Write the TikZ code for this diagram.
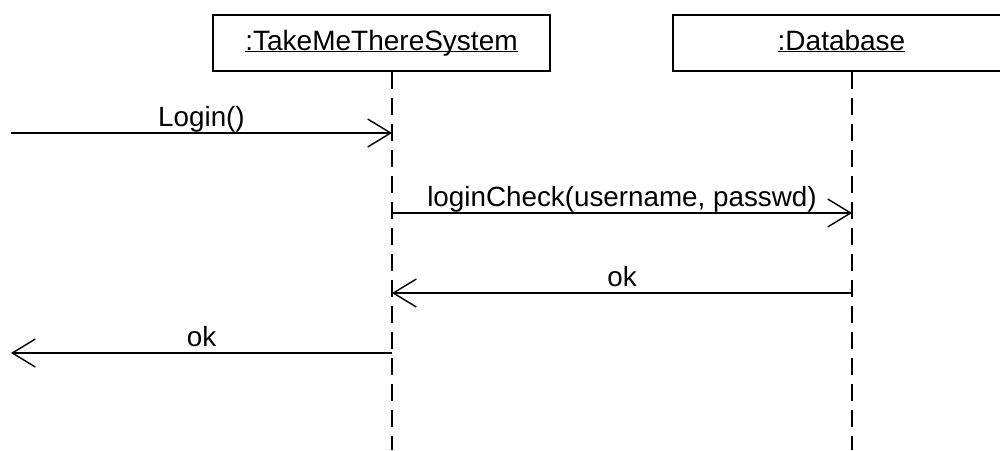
\documentclass[tikz,border=0pt]{standalone}
\usepackage{fontspec}
\setmainfont{Liberation Sans}
\usetikzlibrary{positioning,arrows.meta,calc}

\newcommand{\objname}[1]{\underline{\smash{#1}}}  % underline at the baseline

\begin{document}
\begin{tikzpicture}[x=1pt,y=1pt,  % one unit = one pixel of the sketch
    obj/.style={draw,line width=1.8,minimum width=337,minimum height=56,inner sep=0pt,
                text height=14pt,text depth=0pt,font=\fontsize{28}{32}\selectfont},
    lifeline/.style={line width=1.8,dash pattern=on 17pt off 9pt},
    msg/.style={line width=1.4,-{Straight Barb[length=23pt,width=28pt,line width=1.4pt]}},
    lbl/.style={midway,anchor=base,yshift=7pt,inner sep=0pt,font=\fontsize{27.8}{32}\selectfont}]
    \useasboundingbox (0,0) rectangle (1000,-450);
    \clip (0,0) rectangle (1000,-450);   % right box runs off the page

    \def\ybot{-450};                    % lifelines end here
    \def\dl{10.5};                      % lifeline sits right of the box centre

    % objects
    \node[obj] (sys) at (381.5,-43) {\objname{:TakeMeThereSystem}};
    \node[obj] (db)  at (841.5,-43) {\objname{:Database}};

    % lifelines
    \coordinate (sysl) at ($(sys.south)+(\dl,0)$);
    \coordinate (dbl)  at ($(db.south)+(\dl,0)$);
    \draw[lifeline] (sysl) -- (sysl |- 0,\ybot);
    \draw[lifeline] (dbl) -- (dbl |- 0,\ybot);

    % messages
    \coordinate (in)  at (11,-133);
    \coordinate (out) at (11,-353);
    \coordinate (m2) at (0,-213);
    \coordinate (m3) at (0,-293);
    \draw[msg] (in) -- (sysl |- in) node[lbl] {Login()};
    \draw[msg] (sysl |- m2) -- (dbl |- m2) node[lbl] {loginCheck(username, passwd)};
    \draw[msg] (dbl |- m3) -- (sysl |- m3) node[lbl] {ok};
    \draw[msg] (sysl |- out) -- (out) node[lbl] {ok};
\end{tikzpicture}
\end{document}
